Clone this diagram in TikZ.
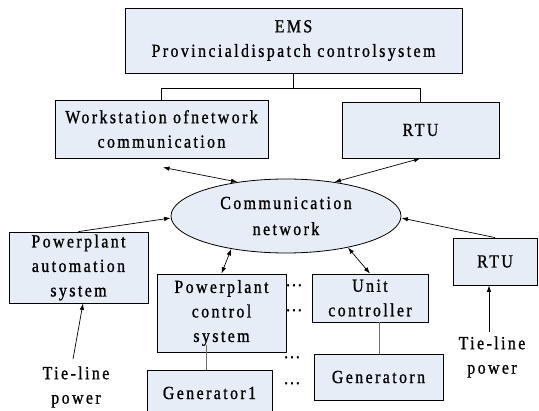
\documentclass[tikz,border=0pt]{standalone}
\usepackage{fontspec}
\setmainfont[LetterSpace=13, FakeStretch=0.86, FakeBold=1]{Liberation Serif}
\usetikzlibrary{shapes.geometric,arrows.meta,calc}
\definecolor{boxfill}{HTML}{E7EDF7}
\definecolor{linkgray}{HTML}{6E6E6E}
\tikzset{
  unit/.style={draw=black, line width=0.8pt, fill=boxfill, inner sep=0pt,
    align=center, font=\fontsize{18.5}{24.5}\selectfont},
  plain/.style={inner sep=0pt, align=center, font=\fontsize{18.5}{24.5}\selectfont},
  link/.style={line width=0.7pt, black},
  duplex/.style={link, {Latex[length=6.5pt,width=4.5pt]}-{Latex[length=6.5pt,width=4.5pt]}},
  simplex/.style={link, -{Latex[length=6.5pt,width=4.5pt]}},
  feeder/.style={line width=1pt, linkgray},
  dotgap/.style={inner sep=0pt, font=\fontsize{14}{14}\selectfont\bfseries}
}
\begin{document}
\begin{tikzpicture}[x=1pt,y=-1pt]
\useasboundingbox (0,0) rectangle (539,411);

% upper level
\node[unit, minimum width=337pt, minimum height=65pt] (ems) at (293.5,40.5)
  {EMS\\Provincialdispatch controlsystem};
\node[unit, minimum width=213pt, minimum height=58pt] (ws) at (161.5,129)
  {Workstation ofnetwork\\communication};
\node[unit, minimum width=157pt, minimum height=56pt] (rtu) at (420.5,130) {RTU};

% communication network
\node[draw=black, line width=0.8pt, fill=boxfill, ellipse, inner sep=0pt,
  minimum width=230pt, minimum height=74pt, align=center,
  font=\fontsize{18.5}{26}\selectfont] (net) at (286,216) {Communication\\network};

% lower level
\node[unit, minimum width=139pt, minimum height=71pt] (pa) at (78.5,267.5)
  {Powerplant\\automation\\system};
\node[unit, minimum width=84pt, minimum height=47pt] (rtub) at (495,261.5) {RTU};
\node[unit, minimum width=129pt, minimum height=78pt] (pcs) at (221.5,313)
  {Powerplant\\control\\system};
\node[unit, minimum width=116pt, minimum height=48pt] (uc) at (370,298)
  {Unit\\controller};
\node[unit, minimum width=125pt, minimum height=46pt] (gen1) at (209.5,393)
  {Generator1};
\node[unit, minimum width=129pt, minimum height=46pt] (genn) at (378.5,377)
  {Generatorn};

% tie-line feeds
\node[plain] (tiea) at (76,387) {Tie-line\\power};
\node[plain] (tieb) at (492,357) {Tie-line\\power};

% continuation dots
\node[dotgap] (d1) at (294,287) {···};
\node[dotgap] (d2) at (294,312) {···};
\node[dotgap] (d3) at (292,359) {···};
\node[dotgap] (d4) at (292,385) {···};

% dispatch tree
\path (ems.south) ++(0,15) coordinate (fork);
\draw[link] (ems.south) -- (fork);
\draw[link] (ws.north) |- (fork) -| (rtu.north);

% network links
\draw[duplex] ([xshift=1.5pt,yshift=-9pt]ws.south) -- (net.145);
\draw[duplex] (rtu.south) -- (net.35);
\draw[simplex] (pa.north) -- ([yshift=-2pt]net.west);
\draw[simplex] (rtub.north) -- ([yshift=-2pt]net.east);
\draw[duplex] (net.211) -- (pcs.north);
\draw[duplex] (net.333) -- (uc.north);

% tie-line arrows
\draw[simplex] ([xshift=-3pt,yshift=7pt]tiea.north) -- ([xshift=4.5pt]pa.south);
\draw[simplex] ([xshift=-3pt,yshift=4pt]tieb.north) -- ([xshift=-6pt]rtub.south);

% generator feeders
\draw[feeder] ([xshift=-15.5pt,yshift=7pt]pcs.south) -- ([xshift=-15.5pt]pcs.south |- gen1.north);
\draw[feeder] ([xshift=9pt]uc.south) -- ([xshift=9pt]uc.south |- genn.north);
\end{tikzpicture}
\end{document}
